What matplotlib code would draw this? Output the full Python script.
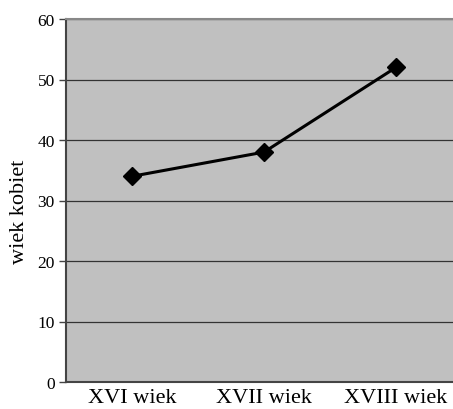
import matplotlib
matplotlib.use("Agg")
import matplotlib.pyplot as plt

categories = ["XVI wiek", "XVII wiek", "XVIII wiek"]
values = [34, 38, 52]
yticks = [0, 10, 20, 30, 40, 50, 60]

plt.rcParams['font.family'] = ['Liberation Serif', 'DejaVu Serif']

fig = plt.figure(figsize=(4.53, 4.10), dpi=100)
ax = fig.add_axes([66/453, 27/410, 396/453, 363/410])
ax.set_facecolor("#c0c0c0")
x = list(range(len(categories)))
ax.plot(x, values, color="black", lw=2.2, marker="D", markersize=9, zorder=3)
ax.set_xlim(-0.5, 2.5)
ax.set_ylim(0, 60)
ax.set_yticks(yticks)
ax.set_yticklabels([str(v) for v in yticks], fontsize=12.5)
ax.set_xticks(x)
ax.set_xticklabels(categories, fontsize=16)
ax.tick_params(axis='x', length=0, pad=4)
ax.tick_params(axis='y', length=5, width=1, color="#444444", pad=3)
ax.yaxis.grid(True, color="#333333", lw=0.9)
ax.set_axisbelow(True)
ax.set_ylabel("wiek kobiet", fontsize=16, va="center")
ax.yaxis.set_label_coords(-0.118, 0.472)
for s in ["left", "bottom"]:
    ax.spines[s].set_color("#444444")
    ax.spines[s].set_linewidth(1.5)
ax.spines["top"].set_color("#888888")
ax.spines["top"].set_linewidth(1.5)
ax.spines["right"].set_visible(False)
fig.savefig("out.png", dpi=100)
